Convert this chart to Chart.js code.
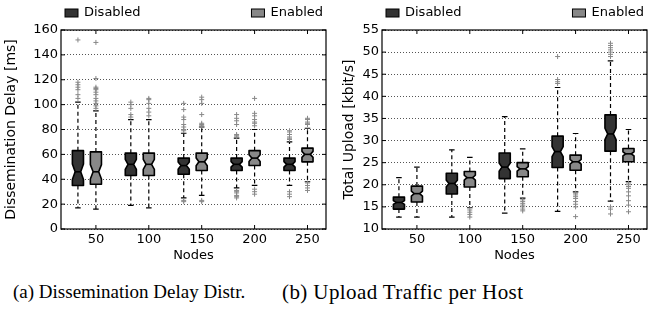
<!DOCTYPE html>
<html>
<head>
<meta charset="utf-8">
<script src="https://cdn.jsdelivr.net/npm/chart.js@4.4.1/dist/chart.umd.min.js"></script>
<style>
  body { margin: 0; background: #fff; width: 665px; height: 318px; position: relative; overflow: hidden; }
  canvas { position: absolute; top: 0; }
  #delayChart { left: 0; }
  #uploadChart { left: 332px; }
  .caption { position: absolute; top: 281px; font: 19px "Liberation Serif", "Times New Roman", serif; color: #000; white-space: nowrap; }
</style>
</head>
<body>
<canvas id="delayChart" width="332" height="266"></canvas>
<canvas id="uploadChart" width="333" height="266"></canvas>
<div class="caption" style="left:13px">(a) Dissemination Delay Distr.</div>
<div class="caption" style="left:282px; top:280px; font-size:21px; letter-spacing:0.4px">(b) Upload Traffic per Host</div>
<script>
const nodes = [50, 100, 150, 200, 250];
const seriesNames = ['Disabled', 'Enabled'];
const seriesColors = ['#333333', '#888888'];

// box stats per node count: [lower whisker, q1, median, q3, upper whisker]
const delayDisabled = [[17, 35, 46, 63, 102], [19, 43, 52, 61, 88], [25, 44, 51, 57, 77], [33, 47, 52, 57, 73], [35, 47, 52, 57, 70]];
const delayEnabled = [[16, 36, 46, 62, 95], [17, 43, 52, 61, 88], [27, 47, 54, 61, 82], [35, 51, 57, 63, 80], [38, 54, 60, 65, 81]];
const delayDisabledOut = [
  [152, 118, 116, 114, 112, 108, 105],
  [102, 100, 97, 92, 90],
  [101, 96, 90, 88, 84, 82, 80, 79, 23, 22],
  [92, 89, 87, 84, 76, 75, 74, 31, 30, 29, 27, 26, 25],
  [79, 78, 76, 74, 73, 72, 30, 28, 26]
];
const delayEnabledOut = [
  [150, 121, 114, 113, 112, 110, 108, 105, 103, 101, 99, 97],
  [105, 104, 101, 97, 94, 91],
  [106, 104, 101, 92, 85, 84, 83, 23, 22],
  [105, 93, 91, 88, 86, 85, 83, 32, 30, 28],
  [89, 88, 86, 85, 84, 37, 35, 33, 31]
];

const uploadDisabled = [[12.7, 14.5, 16, 17.2, 21.6], [12.7, 17.9, 20.3, 22.6, 27.9], [13.6, 21.4, 24, 27.2, 35.4], [14, 23.9, 27.5, 31, 42], [16.3, 27.6, 31.5, 35.8, 48]];
const uploadEnabled = [[12.7, 16.1, 18, 19.7, 24], [14.8, 19.5, 21.6, 23, 26.2], [17, 21.8, 23.6, 25, 28.1], [18.4, 23.3, 25.2, 26.7, 31.6], [20.7, 25.2, 27, 28.2, 32.5]];
const uploadDisabledOut = [[], [], [], [49, 43.8, 43.3, 42.9], [52, 51.5, 51, 50.5, 50, 49.5, 49, 15, 14.5, 13.4]];
const uploadEnabledOut = [
  [],
  [14.3, 13.8, 13.3, 12.7],
  [16.6, 16.2, 15.8, 15.4, 15, 14.5, 14.1],
  [18.1, 17.7, 17.3, 16.9, 16.2, 15.6, 15, 12.8],
  [20.4, 20, 19.6, 19.2, 18.4, 17.5, 16.4, 15.4, 13.9]
];

const disabledShift = -17;  // disabled box sits left of the tick
const boxWidth = 10.5;      // in x units

Chart.defaults.font.family = '"DejaVu Sans", sans-serif';
Chart.defaults.font.size = 13;
Chart.defaults.color = '#000';

function boxPlugin(groups, notchN) {
  return {
    id: 'boxes',
    beforeDatasetsDraw(chart) {
      const { ctx, scales: { x, y } } = chart;
      const half = Math.abs(x.getPixelForValue(boxWidth) - x.getPixelForValue(0)) / 2;
      const py = v => y.getPixelForValue(v);
      ctx.save();
      ctx.strokeStyle = '#000';
      groups.forEach(g => g.stats.forEach((s, i) => {
        const [lo, q1, med, q3, hi] = s;
        const nd = 1.57 * (q3 - q1) / Math.sqrt(notchN);
        const nTop = Math.min(med + nd, q3), nBot = Math.max(med - nd, q1);
        const cx = x.getPixelForValue(nodes[i] + g.offset);
        const L = cx - half, R = cx + half, cl = cx - half / 2, cr = cx + half / 2;
        // whiskers
        ctx.lineWidth = 1.2;
        ctx.setLineDash([4, 3]);
        ctx.beginPath();
        ctx.moveTo(cx, py(q3)); ctx.lineTo(cx, py(hi));
        ctx.moveTo(cx, py(q1)); ctx.lineTo(cx, py(lo));
        ctx.stroke();
        ctx.setLineDash([]);
        ctx.beginPath();
        ctx.moveTo(cl, py(hi)); ctx.lineTo(cr, py(hi));
        ctx.moveTo(cl, py(lo)); ctx.lineTo(cr, py(lo));
        ctx.stroke();
        // notched box
        ctx.beginPath();
        ctx.moveTo(L, py(q1)); ctx.lineTo(R, py(q1));
        ctx.lineTo(R, py(nBot)); ctx.lineTo(cr, py(med)); ctx.lineTo(R, py(nTop));
        ctx.lineTo(R, py(q3)); ctx.lineTo(L, py(q3));
        ctx.lineTo(L, py(nTop)); ctx.lineTo(cl, py(med)); ctx.lineTo(L, py(nBot));
        ctx.closePath();
        ctx.fillStyle = g.color;
        ctx.fill();
        ctx.lineWidth = 1.6;
        ctx.lineJoin = 'round';
        ctx.stroke();
        ctx.beginPath();
        ctx.moveTo(cl, py(med)); ctx.lineTo(cr, py(med));
        ctx.stroke();
      }));
      ctx.restore();
    }
  };
}

const framePlugin = {
  id: 'frame',
  afterDraw(chart) {
    const { ctx, chartArea: a, scales: { x, y } } = chart;
    ctx.save();
    ctx.strokeStyle = '#000';
    ctx.lineWidth = 1.2;
    ctx.strokeRect(a.left, a.top, a.right - a.left, a.bottom - a.top);
    ctx.lineWidth = 1;
    ctx.beginPath();
    x.ticks.forEach(t => {
      const px = x.getPixelForValue(t.value);
      ctx.moveTo(px, a.bottom); ctx.lineTo(px, a.bottom - 4);
      ctx.moveTo(px, a.top); ctx.lineTo(px, a.top + 4);
    });
    y.ticks.forEach(t => {
      const p = y.getPixelForValue(t.value);
      ctx.moveTo(a.left, p); ctx.lineTo(a.left + 4, p);
      ctx.moveTo(a.right, p); ctx.lineTo(a.right - 4, p);
    });
    ctx.stroke();

    // legend: one entry at each end, above the plot
    const ym = 13;
    const key = (kx, color) => {
      ctx.fillStyle = color;
      ctx.fillRect(kx, ym - 4, 13, 8);
      ctx.strokeRect(kx, ym - 4, 13, 8);
    };
    ctx.font = '13px "DejaVu Sans"';
    ctx.textBaseline = 'middle';
    ctx.textAlign = 'left';
    key(a.left + 4, seriesColors[0]);
    ctx.fillStyle = '#000';
    ctx.fillText(seriesNames[0], a.left + 23, ym);
    const tx = a.right - 3 - ctx.measureText(seriesNames[1]).width;
    key(tx - 19, seriesColors[1]);
    ctx.fillStyle = '#000';
    ctx.fillText(seriesNames[1], tx, ym);
    ctx.restore();
  }
};

function outlierPoints(list, offset) {
  return list.flatMap((vals, i) => vals.map(v => ({ x: nodes[i] + offset, y: v })));
}

function makeChart(id, cfg) {
  return new Chart(document.getElementById(id), {
    type: 'scatter',
    data: {
      datasets: [
        { data: outlierPoints(cfg.disabledOut, disabledShift) },
        { data: outlierPoints(cfg.enabledOut, 0) }
      ].map(d => Object.assign(d, {
        pointStyle: 'cross', radius: 2.5, borderColor: '#888', borderWidth: 1, hoverRadius: 2.5
      }))
    },
    options: {
      responsive: false,
      animation: false,
      events: [],
      layout: { padding: { top: 30, right: cfg.padRight, bottom: 0, left: 0 } },
      plugins: { legend: { display: false }, tooltip: { enabled: false } },
      scales: {
        x: {
          type: 'linear', min: 17, max: 267.5,
          afterBuildTicks: s => { s.ticks = nodes.map(v => ({ value: v })); },
          afterFit: s => { s.height = 37; },
          grid: { display: false, drawTicks: false },
          border: { display: false },
          ticks: { padding: 3, maxRotation: 0 },
          title: { display: true, text: 'Nodes', padding: { top: 0, bottom: 3 } }
        },
        y: {
          min: cfg.yMin, max: cfg.yMax,
          afterFit: s => { s.width = cfg.axisWidth; },
          ticks: { stepSize: cfg.yStep, padding: 3 },
          grid: { color: '#555', lineWidth: 1, drawTicks: false },
          border: { display: false, dash: [1, 2] },
          title: { display: true, text: cfg.yTitle, font: { size: 14 }, padding: { top: cfg.titlePad, bottom: 0 } }
        }
      }
    },
    plugins: [
      boxPlugin([
        { stats: cfg.disabled, offset: disabledShift, color: seriesColors[0] },
        { stats: cfg.enabled, offset: 0, color: seriesColors[1] }
      ], cfg.notchN),
      framePlugin
    ]
  });
}

makeChart('delayChart', {
  disabled: delayDisabled, enabled: delayEnabled,
  disabledOut: delayDisabledOut, enabledOut: delayEnabledOut,
  yMin: 0, yMax: 160, yStep: 20, yTitle: 'Dissemination Delay [ms]',
  axisWidth: 61, padRight: 6, titlePad: 3, notchN: 50
});

makeChart('uploadChart', {
  disabled: uploadDisabled, enabled: uploadEnabled,
  disabledOut: uploadDisabledOut, enabledOut: uploadEnabledOut,
  yMin: 10, yMax: 55, yStep: 5, yTitle: 'Total Upload [kbit/s]',
  axisWidth: 50, padRight: 18, titlePad: 9, notchN: 100
});
</script>
</body>
</html>
